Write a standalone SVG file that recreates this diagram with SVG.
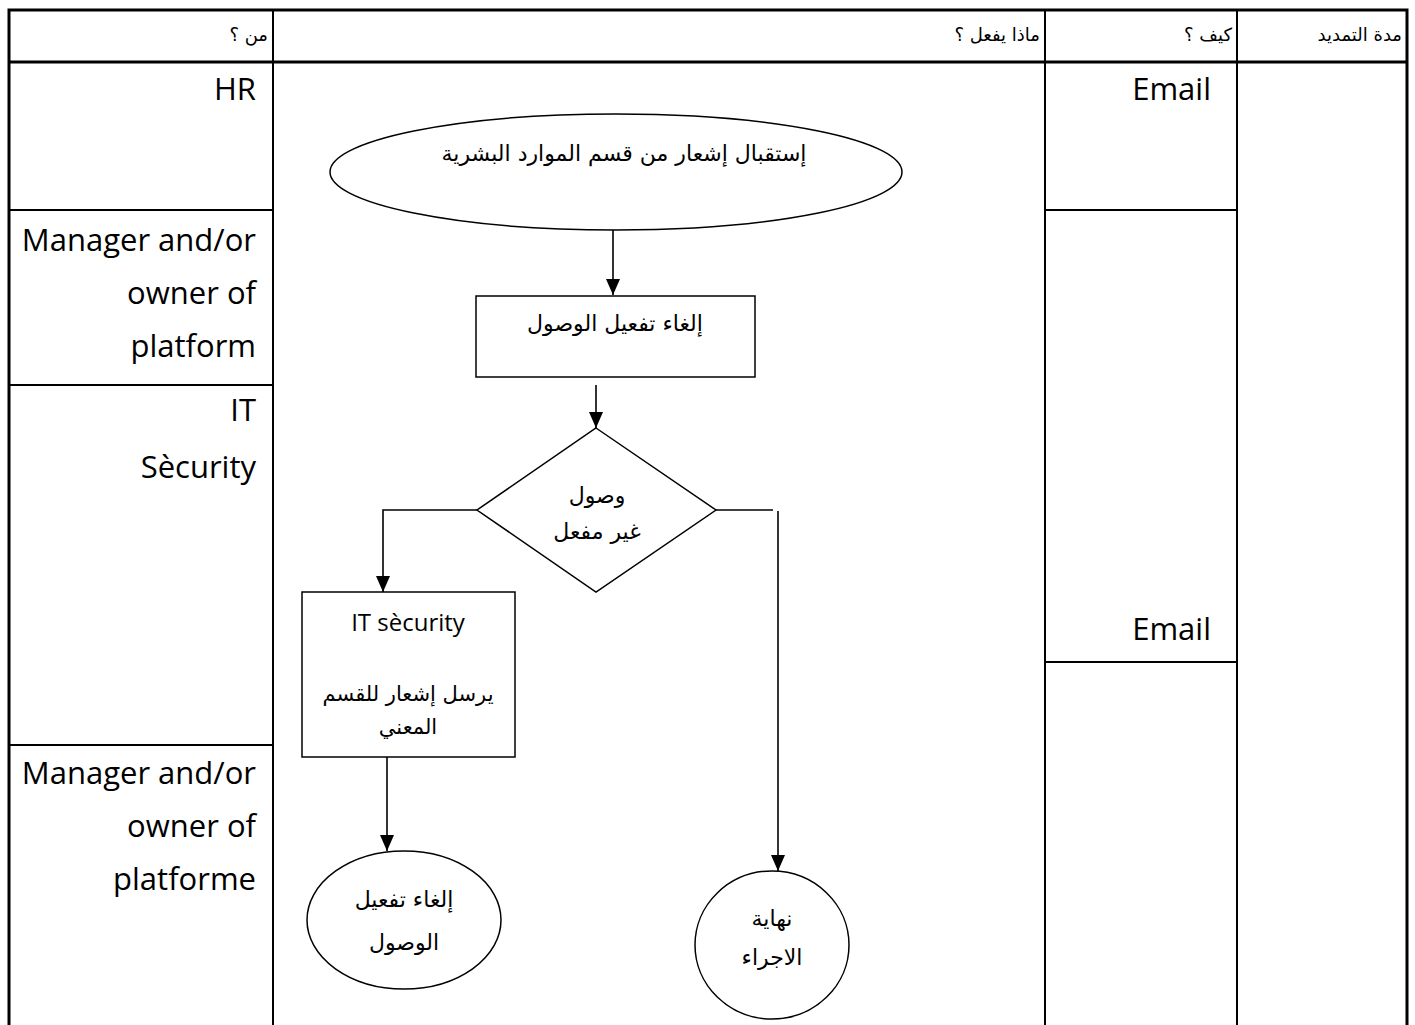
<svg xmlns="http://www.w3.org/2000/svg" width="1415" height="1025" viewBox="0 0 1415 1025">
  <style>
    .grid { stroke: #000; stroke-width: 2; fill: none; }
    .frame { stroke: #000; stroke-width: 3; fill: none; }
    .shape { stroke: #000; stroke-width: 1.5; fill: #fff; }
    .edge { stroke: #000; stroke-width: 1.6; fill: none; }
    .head { font-family: "DejaVu Sans", sans-serif; font-size: 18px; fill: #000; }
    .lane { font-family: "Open Sans", "DejaVu Sans", sans-serif; font-size: 31px; fill: #000; text-anchor: end; }
    .ar { font-family: "DejaVu Sans", sans-serif; font-size: 22px; fill: #000; text-anchor: middle; }
    .ar-s { font-family: "DejaVu Sans", sans-serif; font-size: 21px; fill: #000; text-anchor: middle; }
    .lat { font-family: "Open Sans", "DejaVu Sans", sans-serif; font-size: 24px; fill: #000; text-anchor: middle; }
  </style>
  <defs>
    <marker id="arrow" markerUnits="userSpaceOnUse" markerWidth="16" markerHeight="14" refX="16" refY="7" orient="auto">
      <path d="M0,0 L16,7 L0,14 z" fill="#000"/>
    </marker>
  </defs>

  <rect width="1415" height="1025" fill="#fff"/>

  <!-- table grid -->
  <g id="table">
    <path class="frame" d="M9,1025 V10 H1407 V1025"/>
    <path class="frame" d="M9,62 H1407"/>
    <path class="grid" d="M273,10 V1025 M1045,10 V1025 M1237,10 V1025"/>
    <path class="grid" d="M9,210 H273 M9,385 H273 M9,745 H273"/>
    <path class="grid" d="M1045,210 H1237 M1045,662 H1237"/>
  </g>

  <!-- column headers -->
  <g id="headers">
    <text class="head" x="268" y="41" text-anchor="end">من ؟</text>
    <text class="head" x="1040" y="41" text-anchor="end">ماذا يفعل ؟</text>
    <text class="head" x="1232" y="41" text-anchor="end">كيف ؟</text>
    <text class="head" x="1402" y="41" text-anchor="end">مدة التمديد</text>
  </g>

  <!-- lane labels -->
  <g id="lanes">
    <text class="lane" x="256" y="100">HR</text>
    <text class="lane" x="256" y="251">Manager and/or</text>
    <text class="lane" x="256" y="304">owner of</text>
    <text class="lane" x="256" y="357">platform</text>
    <text class="lane" x="256" y="421">IT</text>
    <text class="lane" x="256" y="478">Sècurity</text>
    <text class="lane" x="256" y="784">Manager and/or</text>
    <text class="lane" x="256" y="837">owner of</text>
    <text class="lane" x="256" y="890">platforme</text>
  </g>

  <!-- channel labels -->
  <g id="channels">
    <text class="lane" x="1211" y="100">Email</text>
    <text class="lane" x="1211" y="640">Email</text>
  </g>

  <!-- connectors -->
  <g id="connectors">
    <path class="edge" d="M613,230 V295" marker-end="url(#arrow)"/>
    <path class="edge" d="M596,385 V428" marker-end="url(#arrow)"/>
    <path class="edge" d="M477,510 H383 V592" marker-end="url(#arrow)"/>
    <path class="edge" d="M716,510 H773"/>
    <path class="edge" d="M778,511 V871" marker-end="url(#arrow)"/>
    <path class="edge" d="M387,757 V851" marker-end="url(#arrow)"/>
  </g>

  <!-- flow nodes -->
  <g id="start">
    <ellipse class="shape" cx="616" cy="172" rx="286" ry="58"/>
    <text class="ar" x="624" y="161">إستقبال إشعار من قسم الموارد البشرية</text>
  </g>

  <g id="revoke">
    <rect class="shape" x="476" y="296" width="279" height="81"/>
    <text class="ar" x="615" y="331">إلغاء تفعيل الوصول</text>
  </g>

  <g id="check">
    <polygon class="shape" points="596,428 716,510 596,592 477,510"/>
    <text class="ar" x="597" y="503">وصول</text>
    <text class="ar" x="597" y="539">غير مفعل</text>
  </g>

  <g id="notify">
    <rect class="shape" x="302" y="592" width="213" height="165"/>
    <text class="lat" x="408" y="631">IT sècurity</text>
    <text class="ar-s" x="408" y="701">يرسل إشعار للقسم</text>
    <text class="ar-s" x="408" y="734">المعني</text>
  </g>

  <g id="revoked">
    <ellipse class="shape" cx="404" cy="920" rx="97" ry="69"/>
    <text class="ar" x="404" y="907">إلغاء تفعيل</text>
    <text class="ar" x="404" y="950">الوصول</text>
  </g>

  <g id="end">
    <ellipse class="shape" cx="772" cy="945" rx="77" ry="74"/>
    <text class="ar" x="772" y="926">نهاية</text>
    <text class="ar" x="772" y="965">الاجراء</text>
  </g>
</svg>
